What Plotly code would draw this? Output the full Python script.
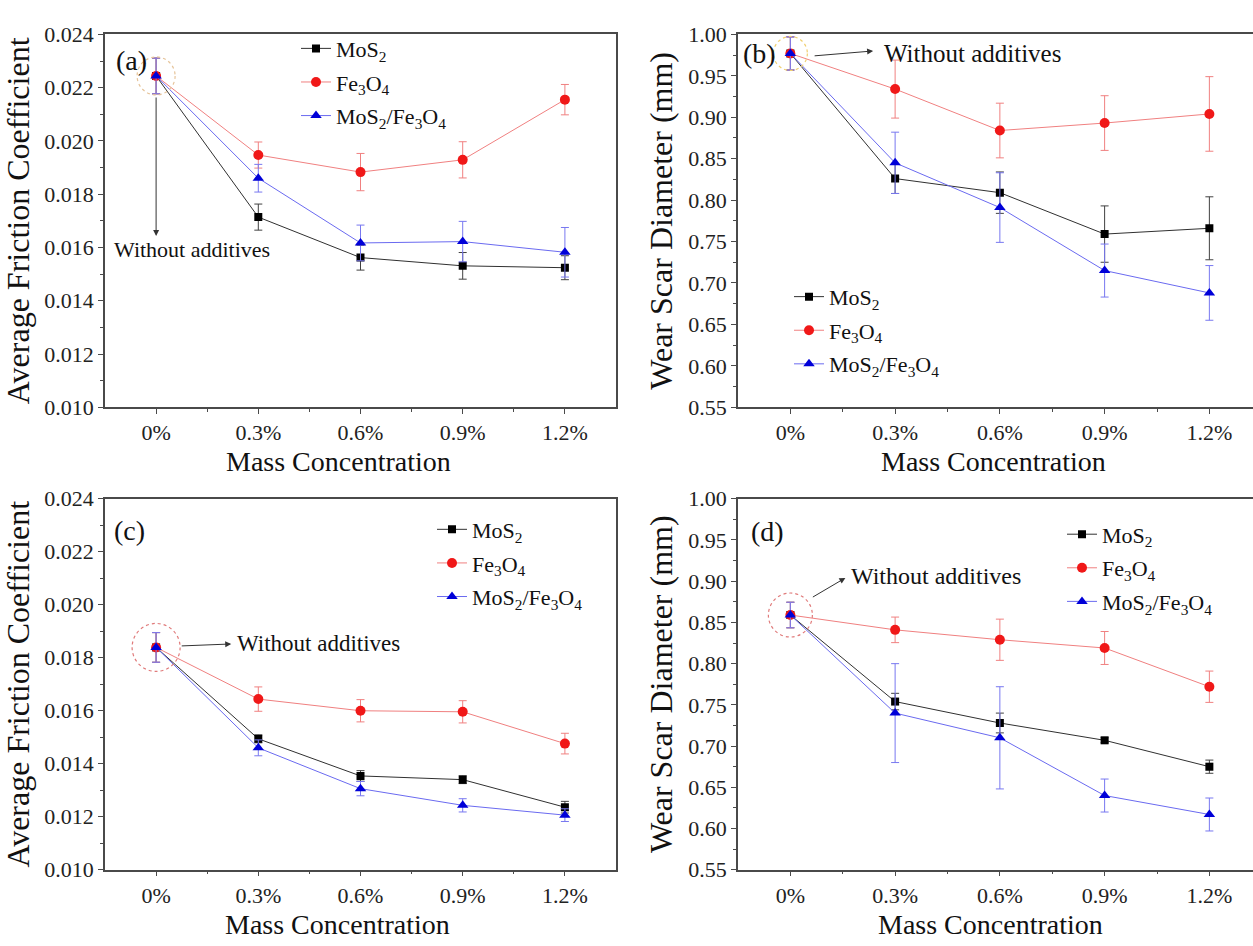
import plotly.graph_objects as go

# ---------------- data ----------------
categories = ["0%", "0.3%", "0.6%", "0.9%", "1.2%"]
series_names = ["MoS<sub>2</sub>", "Fe<sub>3</sub>O<sub>4</sub>", "MoS<sub>2</sub>/Fe<sub>3</sub>O<sub>4</sub>"]

# (a) average friction coefficient, set 1
a_mos2 = [0.02244, 0.01714, 0.01562, 0.01531, 0.01524]
a_fe3o4 = [0.02244, 0.01947, 0.01883, 0.01929, 0.02155]
a_blend = [0.02244, 0.01860, 0.01617, 0.01622, 0.01582]
a_mos2_err = [0.00067, 0.00049, 0.00047, 0.00050, 0.00045]
a_fe3o4_err = [0.00067, 0.00049, 0.00070, 0.00068, 0.00057]
a_blend_err = [0.00067, 0.00052, 0.00067, 0.00076, 0.00093]

# (b) wear scar diameter, set 1
b_mos2 = [0.977, 0.826, 0.809, 0.759, 0.766]
b_fe3o4 = [0.977, 0.934, 0.884, 0.893, 0.904]
b_blend = [0.977, 0.845, 0.791, 0.715, 0.688]
b_mos2_err = [0.020, 0.018, 0.025, 0.034, 0.038]
b_fe3o4_err = [0.020, 0.035, 0.033, 0.033, 0.045]
b_blend_err = [0.020, 0.037, 0.042, 0.032, 0.033]

# (c) average friction coefficient, set 2
c_mos2 = [0.01839, 0.01494, 0.01354, 0.01340, 0.01236]
c_fe3o4 = [0.01839, 0.01644, 0.01600, 0.01596, 0.01476]
c_blend = [0.01839, 0.01460, 0.01306, 0.01243, 0.01206]
c_mos2_err = [0.00056, 0.00015, 0.00020, 0.00015, 0.00022]
c_fe3o4_err = [0.00056, 0.00046, 0.00042, 0.00042, 0.00039]
c_blend_err = [0.00056, 0.00030, 0.00027, 0.00025, 0.00024]

# (d) wear scar diameter, set 2
d_mos2 = [0.859, 0.754, 0.728, 0.707, 0.675]
d_fe3o4 = [0.859, 0.841, 0.829, 0.819, 0.772]
d_blend = [0.859, 0.740, 0.710, 0.640, 0.617]
d_mos2_err = [0.0155, 0.010, 0.012, 0.003, 0.008]
d_fe3o4_err = [0.0155, 0.0155, 0.025, 0.020, 0.019]
d_blend_err = [0.0155, 0.060, 0.062, 0.020, 0.020]

panel_labels = ["(a)", "(b)", "(c)", "(d)"]
note_text = "Without additives"
x_title = "Mass Concentration"
y_title_friction = "Average Friction Coefficient"
y_title_wear = "Wear Scar Diameter (mm)"

# ---------------- styling ----------------
FONT = "Times New Roman, Liberation Serif, DejaVu Serif, serif"
marker_colors = ["#000000", "#f01818", "#0000d8"]
line_colors = ["#303030", "#f08080", "#6a6af0"]
err_colors = ["#404040", "#f08080", "#7878f0"]
symbols = ["square", "circle", "triangle-up"]
msizes = [8, 10, 10]

xpos = list(range(len(categories)))

panels = [
    dict(ax="", data=[a_mos2, a_fe3o4, a_blend], err=[a_mos2_err, a_fe3o4_err, a_blend_err], legend="legend"),
    dict(ax="2", data=[b_mos2, b_fe3o4, b_blend], err=[b_mos2_err, b_fe3o4_err, b_blend_err], legend="legend2"),
    dict(ax="3", data=[c_mos2, c_fe3o4, c_blend], err=[c_mos2_err, c_fe3o4_err, c_blend_err], legend="legend3"),
    dict(ax="4", data=[d_mos2, d_fe3o4, d_blend], err=[d_mos2_err, d_fe3o4_err, d_blend_err], legend="legend4"),
]

fig = go.Figure()
for pi, p in enumerate(panels):
    for si in range(3):
        fig.add_trace(go.Scatter(
            x=xpos, y=p["data"][si],
            mode="lines+markers",
            name=series_names[si],
            line=dict(color=line_colors[si], width=1),
            marker=dict(color=marker_colors[si], symbol=symbols[si], size=msizes[si]),
            error_y=dict(type="data", array=p["err"][si], color=err_colors[si], thickness=1, width=4),
            xaxis="x" + p["ax"], yaxis="y" + p["ax"],
            legend=p["legend"], legendgroup=f"p{pi}s{si}",
        ))

W, H = 1253, 946
dom_x_left = [105 / W, 616 / W]
dom_x_right = [738 / W, 1.0]
dom_y_top = [1 - 406 / H, 1 - 23 / H]
dom_y_bot = [1 - 881 / H, 1 - 500 / H]

def xaxis(domain, rng, anchor):
    return dict(
        domain=domain, range=rng, anchor=anchor,
        tickmode="array", tickvals=xpos, ticktext=categories,
        showline=True, linecolor="#4a4a4a", linewidth=1.5, mirror=True,
        ticks="outside", ticklen=5, tickwidth=1.2, tickcolor="#4a4a4a",
        minor=dict(tickmode="array", tickvals=[0.5, 1.5, 2.5, 3.5], ticks="outside", ticklen=3,
                   tickwidth=1.2, tickcolor="#4a4a4a"),
        showgrid=False, zeroline=False,
        tickfont=dict(family=FONT, size=22, color="#222"),
    )

def yaxis(domain, rng, anchor, dtick, fmt, title, mirror):
    return dict(
        domain=domain, range=rng, anchor=anchor,
        tick0=rng[0], dtick=dtick, tickformat=fmt,
        showline=True, linecolor="#4a4a4a", linewidth=1.5, mirror=mirror,
        ticks="outside", ticklen=5, tickwidth=1.2, tickcolor="#4a4a4a",
        minor=dict(dtick=dtick / 2, ticks="outside", ticklen=3, tickwidth=1.2, tickcolor="#4a4a4a"),
        showgrid=False, zeroline=False,
        tickfont=dict(family=FONT, size=22, color="#222"),
        title=dict(text=title, font=dict(family=FONT, size=32, color="#111"), standoff=6),
    )

left_range = [-0.5, 4.5]
right_range = [-0.5, -0.5 + 515 / 104.75]

def legend(x, y):
    return dict(x=x, y=y, xanchor="left", yanchor="top", bgcolor="rgba(0,0,0,0)",
                font=dict(family=FONT, size=22, color="#111"), tracegroupgap=2,
                itemwidth=30)

fig.update_layout(
    width=W, height=H, margin=dict(l=0, r=0, t=0, b=0),
    paper_bgcolor="white", plot_bgcolor="white",
    font=dict(family=FONT),
    xaxis=xaxis(dom_x_left, left_range, "y"),
    yaxis=yaxis(dom_y_top, [0.010, 0.024], "x", 0.002, ".3f", y_title_friction, True),
    xaxis2=xaxis(dom_x_right, right_range, "y2"),
    yaxis2=yaxis(dom_y_top, [0.55, 1.00], "x2", 0.05, ".2f", y_title_wear, False),
    xaxis3=xaxis(dom_x_left, left_range, "y3"),
    yaxis3=yaxis(dom_y_bot, [0.010, 0.024], "x3", 0.002, ".3f", y_title_friction, True),
    xaxis4=xaxis(dom_x_right, right_range, "y4"),
    yaxis4=yaxis(dom_y_bot, [0.55, 1.00], "x4", 0.05, ".2f", y_title_wear, False),
    legend=legend(296 / W, 1 - 16 / H),
    legend2=legend(789 / W, 1 - 271 / H),
    legend3=legend(432 / W, 1 - 510 / H),
    legend4=legend(1062 / W, 1 - 515 / H),
    showlegend=True,
)

# x-axis titles (as paper annotations, placed like the original)
xtitle_pos = [(338, 462), (993, 462), (337, 937), (990, 937)]
for cx, cy in xtitle_pos:
    fig.add_annotation(x=cx / W, y=1 - cy / H, xref="paper", yref="paper", text=x_title,
                       showarrow=False, xanchor="center", yanchor="middle",
                       font=dict(family=FONT, size=28, color="#111"))

# panel labels
label_pos = [("x", "y", -0.245, 0.02301), ("x2", "y2", -0.296, 0.9765),
             ("x3", "y3", -0.264, 0.02279), ("x4", "y4", -0.22, 0.9603)]
for lbl, (xr, yr, xv, yv) in zip(panel_labels, label_pos):
    fig.add_annotation(x=xv, y=yv, xref=xr, yref=yr, text=lbl, showarrow=False,
                       font=dict(family=FONT, size=28, color="#111"))

# dotted circles around the "without additives" point
circles = [("x", "y", a_mos2[0], "#e6c49a", 19), ("x2", "y2", b_mos2[0], "#f0cf70", 17),
           ("x3", "y3", c_mos2[0], "#e07a7a", 24), ("x4", "y4", d_mos2[0], "#e07a7a", 22)]
for xr, yr, yv, col, r in circles:
    fig.add_shape(type="circle", xref=xr, yref=yr, xsizemode="pixel", ysizemode="pixel",
                  xanchor=0, yanchor=yv, x0=-r, x1=r, y0=-r, y1=r,
                  line=dict(color=col, width=1.2, dash="dot"))

# arrows (head at x,y; tail offset in pixels)
arrows = [("x", "y", 0.0, 0.01643, 0, -140), ("x2", "y2", 0.79, 0.980, -60, 5),
          ("x3", "y3", 0.735, 0.01852, -51, 2), ("x4", "y4", 0.525, 0.904, -34, 20)]
for xr, yr, xv, yv, axp, ayp in arrows:
    fig.add_annotation(x=xv, y=yv, xref=xr, yref=yr, text="", showarrow=True,
                       ax=axp, ay=ayp, arrowhead=2, arrowsize=1.2, arrowwidth=1,
                       arrowcolor="#333")

# "Without additives" text
notes = [("x", "y", 0.353, 0.01592, "center", 22), ("x2", "y2", 0.878, 0.9765, "left", 25),
         ("x3", "y3", 0.77, 0.01852, "left", 23), ("x4", "y4", 0.563, 0.906, "left", 24)]
for xr, yr, xv, yv, anc, fs in notes:
    fig.add_annotation(x=xv, y=yv, xref=xr, yref=yr, text=note_text, showarrow=False,
                       xanchor=anc, font=dict(family=FONT, size=fs, color="#111"))

fig.write_html("out.html")
